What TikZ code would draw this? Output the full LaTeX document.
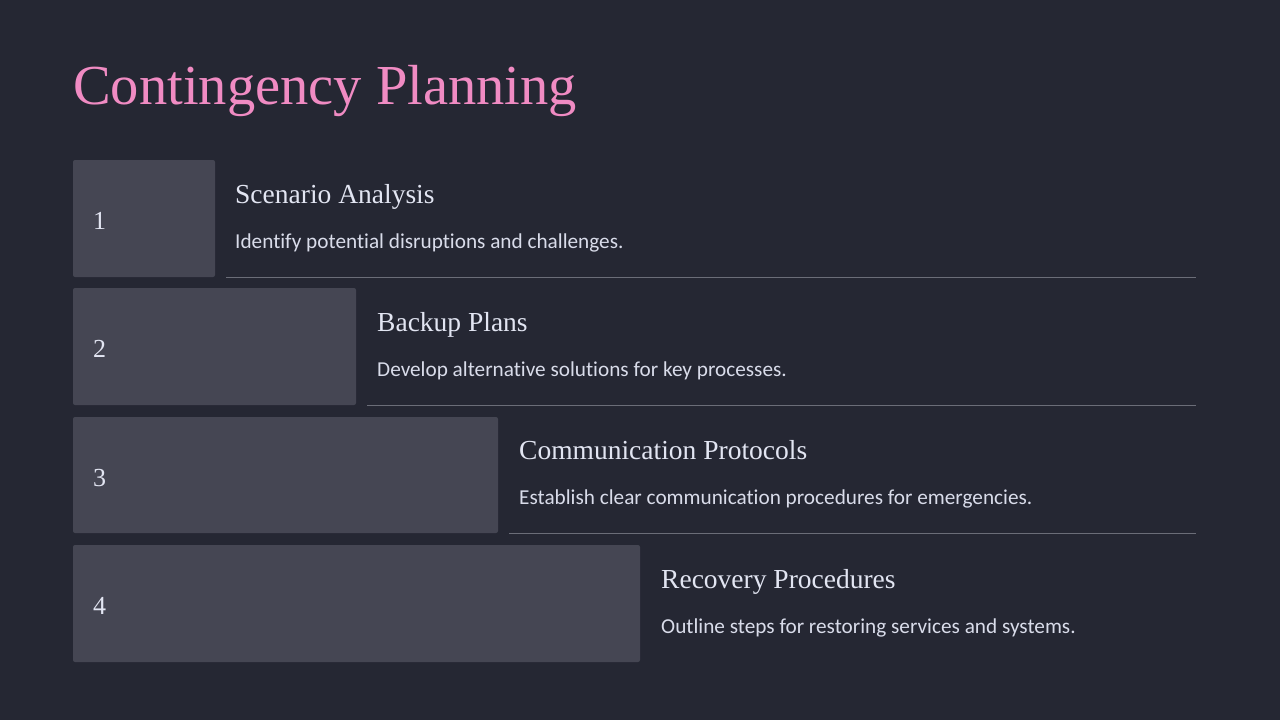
\documentclass[tikz,border=0pt]{standalone}
\usepackage{fontspec}
\setmainfont{Liberation Serif}
\newfontfamily\bodyfont[RawFeature={-liga}]{Carlito}
\definecolor{bg}{HTML}{252733}
\definecolor{boxc}{HTML}{454653}
\definecolor{titlec}{HTML}{F08BC3}
\definecolor{headc}{HTML}{E2E5F2}
\definecolor{descc}{HTML}{D9DCEA}
\definecolor{linec}{HTML}{6B6D78}
\tikzset{
  stepbox/.style={fill=boxc, rounded corners=2pt, draw=none},
  numtext/.style={anchor=base west, inner sep=0pt, text=headc, font=\fontsize{26}{28}\selectfont},
  headtext/.style={anchor=base west, inner sep=0pt, text=headc, font=\fontsize{27.5}{30}\selectfont},
  desctext/.style={anchor=base west, inner sep=0pt, text=descc, font=\bodyfont\fontsize{21.25}{24}\selectfont},
  sepline/.style={draw=linec, line width=1pt}
}
\begin{document}
\begin{tikzpicture}[x=1pt,y=-1pt]
\fill[bg] (0,0) rectangle (1280,720);
\useasboundingbox (0,0) rectangle (1280,720);
\node[anchor=base west, inner sep=0pt, text=titlec, font=\fontsize{56.5}{64}\selectfont] (title) at (73,104) {Contingency Planning};
% boxes
\path[stepbox] (73,160) rectangle (215,277);
\path[stepbox] (73,288) rectangle (356,405);
\path[stepbox] (73,417) rectangle (498,533);
\path[stepbox] (73,545) rectangle (640,662);
\node[numtext] (n1) at (93,229) {1};
\node[numtext] (n2) at (93,357) {2};
\node[numtext] (n3) at (93,486) {3};
\node[numtext] (n4) at (93,614) {4};
\node[headtext] (h1) at (235,203) {Scenario Analysis};
\node[headtext] (h2) at (377,331) {Backup Plans};
\node[headtext] (h3) at (519,459) {Communication Protocols};
\node[headtext] (h4) at (661,588) {Recovery Procedures};
\node[desctext] (d1) at (235,248) {Identify potential disruptions and challenges.};
\node[desctext] (d2) at (377,376) {Develop alternative solutions for key processes.};
\node[desctext] (d3) at (519,504) {Establish clear communication procedures for emergencies.};
\node[desctext] (d4) at (661,633) {Outline steps for restoring services and systems.};
\coordinate (l1a) at (226,277.5); \coordinate (l1b) at (1196,277.5);
\coordinate (l2a) at (367,405.5); \coordinate (l2b) at (1196,405.5);
\coordinate (l3a) at (509,533.5); \coordinate (l3b) at (1196,533.5);
\draw[sepline] (l1a) -- (l1b);
\draw[sepline] (l2a) -- (l2b);
\draw[sepline] (l3a) -- (l3b);
\end{tikzpicture}
\end{document}
